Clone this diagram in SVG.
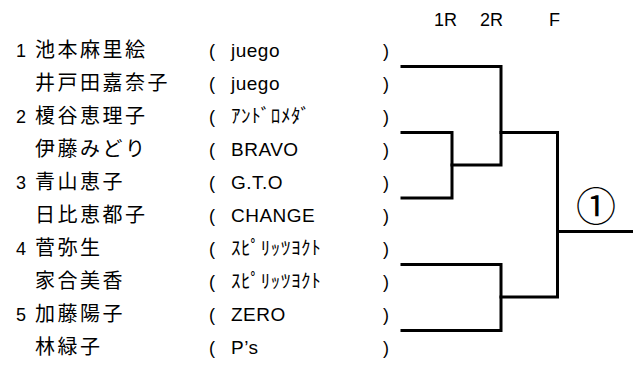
<svg xmlns="http://www.w3.org/2000/svg" width="633" height="365" viewBox="0 0 633 365">
<style>
.num{font-family:"Liberation Sans",Arial,sans-serif;font-size:18px;fill:#000}
.name{font-family:"Noto Sans CJK JP",sans-serif;font-size:20px;letter-spacing:2.5px;fill:#000}
.team{font-family:"Liberation Sans","Noto Sans CJK JP",sans-serif;font-size:19px;letter-spacing:0.5px;fill:#000}
.kana{font-family:"Noto Sans CJK JP",sans-serif;font-size:19px;letter-spacing:0.6px;fill:#000}
.par{font-family:"Liberation Sans",sans-serif;font-size:18px;fill:#000}
.hdr{font-family:"Liberation Sans",Arial,sans-serif;font-size:18px;fill:#000}
.ln{fill:none;stroke:#000;stroke-width:3;stroke-linecap:square;stroke-linejoin:miter}
</style>
<g id="header">
<text class="hdr" x="434" y="26">1R</text>
<text class="hdr" x="480" y="26">2R</text>
<text class="hdr" x="549" y="26">F</text>
</g>
<g id="p1"><text class="num" x="16" y="57">1</text><text class="name" x="35" y="57">池本麻里絵</text><text class="par" x="209" y="57">(</text><text class="team" x="231" y="57">juego</text><text class="par" x="383" y="57">)</text></g>
<g id="p2"><text class="name" x="35" y="90">井戸田嘉奈子</text><text class="par" x="209" y="90">(</text><text class="team" x="231" y="90">juego</text><text class="par" x="383" y="90">)</text></g>
<g id="p3"><text class="num" x="16" y="123">2</text><text class="name" x="35" y="123">榎谷恵理子</text><text class="par" x="209" y="123">(</text><text class="kana" x="231" y="123">ｱﾝﾄﾞﾛﾒﾀﾞ</text><text class="par" x="383" y="123">)</text></g>
<g id="p4"><text class="name" x="35" y="156">伊藤みどり</text><text class="par" x="209" y="156">(</text><text class="team" x="231" y="156">BRAVO</text><text class="par" x="383" y="156">)</text></g>
<g id="p5"><text class="num" x="16" y="189">3</text><text class="name" x="35" y="189">青山恵子</text><text class="par" x="209" y="189">(</text><text class="team" x="231" y="189">G.T.O</text><text class="par" x="383" y="189">)</text></g>
<g id="p6"><text class="name" x="35" y="222">日比恵都子</text><text class="par" x="209" y="222">(</text><text class="team" x="231" y="222">CHANGE</text><text class="par" x="383" y="222">)</text></g>
<g id="p7"><text class="num" x="16" y="255">4</text><text class="name" x="35" y="255">菅弥生</text><text class="par" x="209" y="255">(</text><text class="kana" x="231" y="255">ｽﾋﾟﾘｯﾂﾖｸﾄ</text><text class="par" x="383" y="255">)</text></g>
<g id="p8"><text class="name" x="35" y="288">家合美香</text><text class="par" x="209" y="288">(</text><text class="kana" x="231" y="288">ｽﾋﾟﾘｯﾂﾖｸﾄ</text><text class="par" x="383" y="288">)</text></g>
<g id="p9"><text class="num" x="16" y="321">5</text><text class="name" x="35" y="321">加藤陽子</text><text class="par" x="209" y="321">(</text><text class="team" x="231" y="321">ZERO</text><text class="par" x="383" y="321">)</text></g>
<g id="p10"><text class="name" x="35" y="354">林緑子</text><text class="par" x="209" y="354">(</text><text class="team" x="231" y="354">P’s</text><text class="par" x="383" y="354">)</text></g>
<g id="winner"><text x="596" y="221" text-anchor="middle" font-family="Noto Sans CJK JP,sans-serif" font-size="40">①</text></g>
<g id="connectors">
<path class="ln" d="M402 132.5 H452 V198 H402"/>
<path class="ln" d="M402 66.5 H501 V165 H452"/>
<path class="ln" d="M402 264.5 H501 V330.5 H402"/>
<path class="ln" d="M501 132.5 H557.5 V297 H501"/>
<path class="ln" d="M557.5 231.5 H633"/>
</g>
</svg>
